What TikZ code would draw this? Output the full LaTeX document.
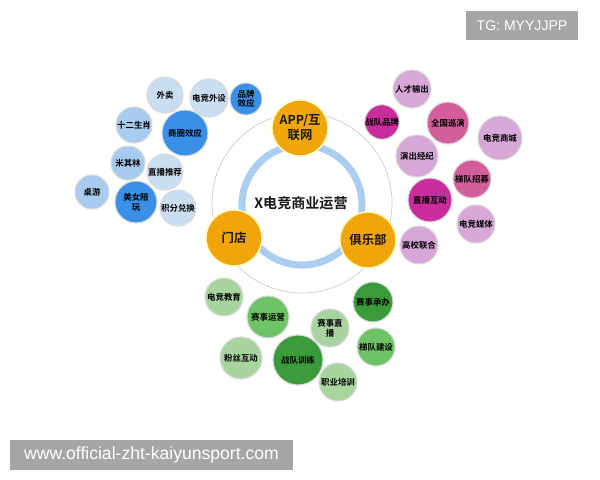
\documentclass[tikz,border=0pt]{standalone}
\usepackage{fontspec}
\setmainfont{Noto Sans CJK SC}[BoldFont={Noto Sans CJK SC Bold}]
\newfontfamily\wmfont{Liberation Sans}
\usepackage{tikz}
\usetikzlibrary{positioning}
\usepackage{xcolor}

\definecolor{hubor}{RGB}{240,165,10}
\definecolor{ringblue}{RGB}{170,205,240}
\definecolor{bdark}{RGB}{58,143,230}
\definecolor{bmid}{RGB}{168,204,240}
\definecolor{bpale}{RGB}{202,222,242}
\definecolor{pmag}{RGB}{200,45,155}
\definecolor{prose}{RGB}{210,95,155}
\definecolor{plilac}{RGB}{215,168,215}
\definecolor{gdark}{RGB}{58,155,58}
\definecolor{gmid}{RGB}{110,195,100}
\definecolor{gpale}{RGB}{168,212,160}
\definecolor{wmgray}{RGB}{166,166,166}

\begin{document}
\begin{tikzpicture}[x=0.025cm,y=-0.025cm]
		\tikzset{
			bubble/.style={circle, draw=white!85!black, line width=0.8pt, inner sep=0pt, align=center,
				text=black, font=\bfseries\fontsize{6}{6.8}\selectfont},
			hub/.style={circle, fill=hubor, draw=yellow!25, line width=1pt, inner sep=0pt, align=center,
				minimum size=1.4cm, text=black!90, font=\bfseries\fontsize{8.8}{10.5}\selectfont},
			wmbox/.style={fill=wmgray, text=white, inner sep=0pt, font=\wmfont},
		}
		\useasboundingbox (0,0) rectangle (600,480);

		%rings
		\draw[black!20, line width=0.5pt] (302,203) circle (2.25cm);
		\draw[ringblue, line width=5pt] (302,205) circle (1.5cm);
		\node (core) at (301,203) [font=\bfseries\fontsize{10}{12}\selectfont, text=black!90] {X电竞商业运营};

		%hubs
		\node (app) at (300,128) [hub] {APP/互\\联网};
		\node (store) at (234,238) [hub] {门店};
		\node (club) at (368,240) [hub] {俱乐部};

		%blue cluster
		\node (takeout) at (165,95) [bubble, fill=bpale, minimum size=0.9cm] {外卖};
		\node (gear) at (209,98) [bubble, fill=bpale, minimum size=0.95cm] {电竞外设};
		\node (brand) at (246,99) [bubble, fill=bdark, minimum size=0.8cm] {品牌\\效应};
		\node (zodiac) at (134,125) [bubble, fill=bmid, minimum size=0.9cm] {十二生肖};
		\node (mall) at (185,133) [bubble, fill=bdark, minimum size=1.15cm] {商圈效应};
		\node (michelin) at (128,163) [bubble, fill=bmid, minimum size=0.85cm] {米其林};
		\node (stream) at (165,172) [bubble, fill=bpale, minimum size=0.9cm] {直播推荐};
		\node (boardgame) at (92,192) [bubble, fill=bmid, minimum size=0.85cm] {桌游};
		\node (escort) at (136,202) [bubble, fill=bdark, minimum size=1.05cm] {美女陪\\玩};
		\node (points) at (178,208) [bubble, fill=bpale, minimum size=0.9cm] {积分兑换};

		%pink cluster
		\node (talent) at (412,89) [bubble, fill=plilac, minimum size=0.95cm] {人才输出};
		\node (teambrand) at (382,122) [bubble, fill=pmag, minimum size=0.85cm] {战队品牌};
		\node (tour) at (448,123) [bubble, fill=prose, minimum size=1.05cm] {全国巡演};
		\node (shop) at (500,138) [bubble, fill=plilac, minimum size=1.1cm] {电竞商城};
		\node (agency) at (417,156) [bubble, fill=plilac, minimum size=1.05cm] {演出经纪};
		\node (recruit) at (472,179) [bubble, fill=prose, minimum size=0.95cm] {梯队招募};
		\node (live) at (430,200) [bubble, fill=pmag, minimum size=1.1cm] {直播互动};
		\node (media) at (476,224) [bubble, fill=plilac, minimum size=0.95cm] {电竞媒体};
		\node (campus) at (419,245) [bubble, fill=plilac, minimum size=0.95cm] {高校联合};

		%green cluster
		\node (edu) at (224,297) [bubble, fill=gpale, minimum size=0.95cm] {电竞教育};
		\node (ops) at (268,317) [bubble, fill=gmid, minimum size=1.05cm] {赛事运营};
		\node (host) at (373,302) [bubble, fill=gdark, minimum size=1.0cm] {赛事承办};
		\node (cast) at (330,328) [bubble, fill=gpale, minimum size=0.95cm] {赛事直\\播};
		\node (youth) at (376,347) [bubble, fill=gmid, minimum size=0.95cm] {梯队建设};
		\node (fans) at (241,358) [bubble, fill=gpale, minimum size=1.05cm] {粉丝互动};
		\node (train) at (298,360) [bubble, fill=gdark, minimum size=1.25cm] {战队训练};
		\node (career) at (338,382) [bubble, fill=gpale, minimum size=0.95cm] {职业培训};

		%watermarks
		\node (tg) at (522,25.5) [wmbox, minimum width=2.8cm, minimum height=0.72cm, font=\wmfont\fontsize{10}{12}\selectfont] {TG: MYYJJPP};
		\node (site) at (151.5,455) [wmbox, minimum width=7.08cm, minimum height=0.75cm, font=\wmfont\fontsize{12.5}{14}\selectfont] {www.official-zht-kaiyunsport.com};
	\end{tikzpicture}
\end{document}
